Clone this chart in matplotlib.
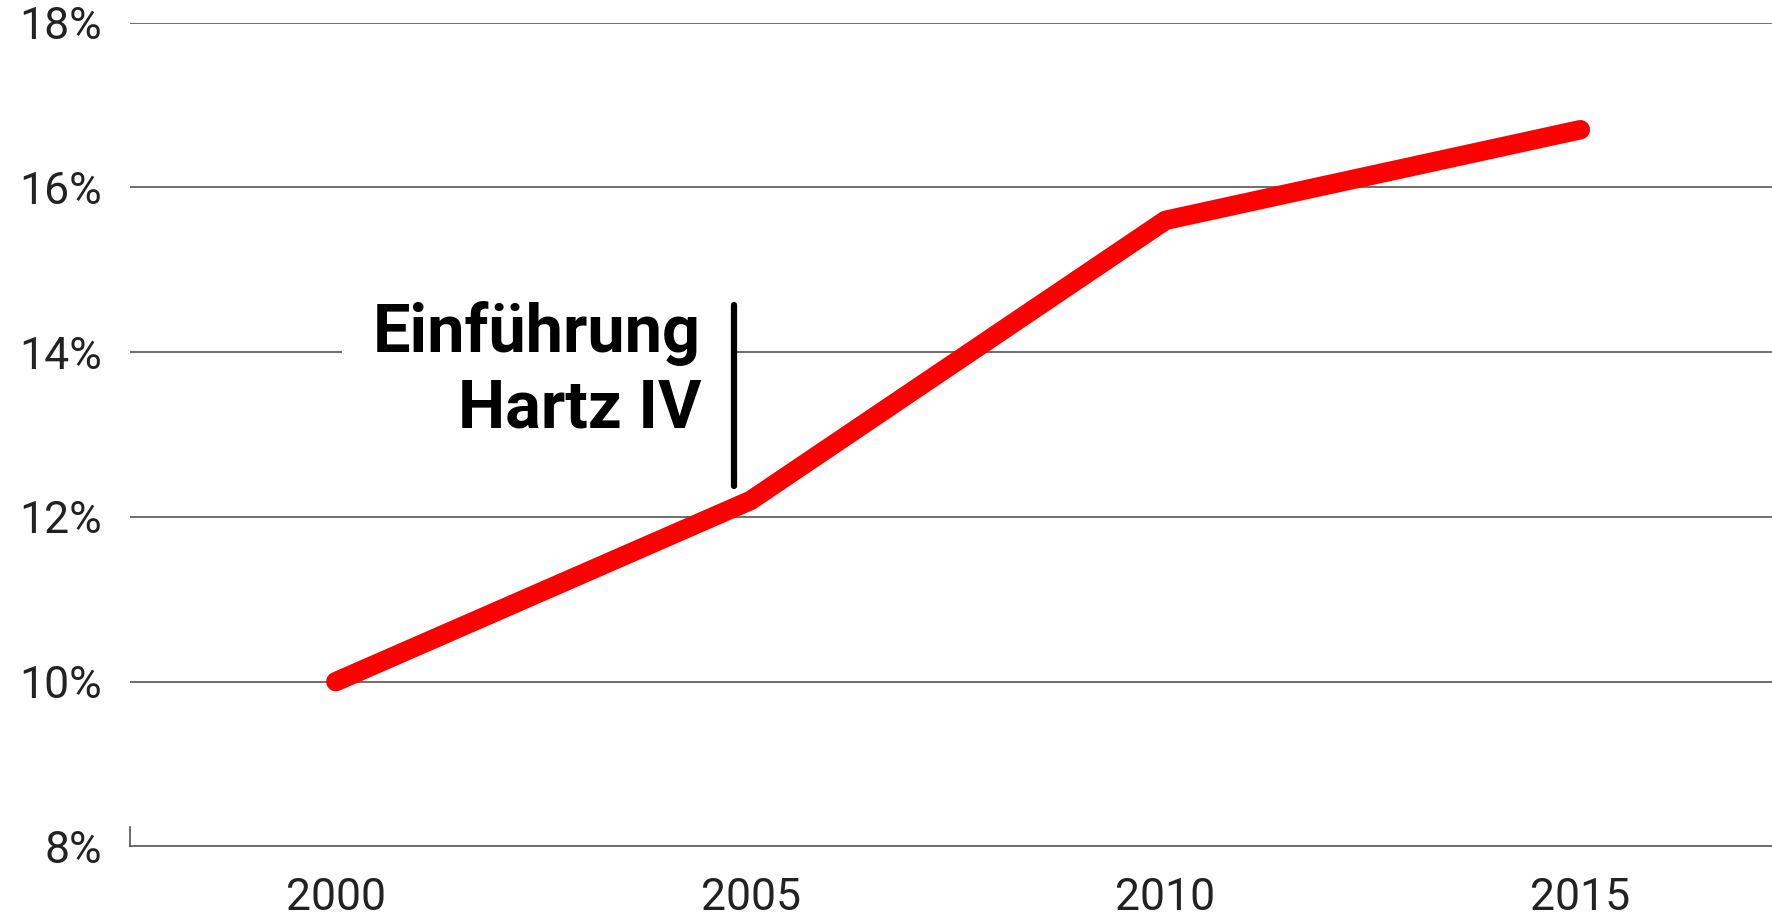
"""
Armutsquote 2000-2015 with the Hartz IV marker.
"""

import matplotlib.pyplot as plt


YEARS = [2000, 2005, 2010, 2015]
SHARE = [10.0, 12.2, 15.6, 16.7]          # percent

Y_TICKS = [8, 10, 12, 14, 16, 18]
Y_TICK_LABELS = ["8%", "10%", "12%", "14%", "16%", "18%"]
X_TICKS = [2000, 2005, 2010, 2015]

MARKER_YEAR = 2004.8
MARKER_RANGE = (12.38, 14.57)
MARKER_TEXT = "Einführung\nHartz IV"

RED = "#ff0000"
GRID = "#555555"


def main():
    plt.rcParams["font.family"] = ["Roboto", "DejaVu Sans"]

    fig = plt.figure(figsize=(17.72, 9.23), dpi=100)
    ax = fig.add_axes([0.0734, 0.083, 0.9266, 0.8925])

    ax.set_xlim(1997.52, 2017.31)
    ax.set_ylim(8, 18)

    # horizontal grid
    for y in Y_TICKS[1:]:
        ax.axhline(y, color=GRID, linewidth=1.2, zorder=1)

    for side in ["top", "right"]:
        ax.spines[side].set_visible(False)
    ax.spines["bottom"].set_color(GRID)
    ax.spines["bottom"].set_linewidth(1.2)
    ax.spines["left"].set_color(GRID)
    ax.spines["left"].set_linewidth(1.2)
    ax.spines["left"].set_bounds(8, 8.24)

    ax.plot(YEARS, SHARE, color=RED, linewidth=14, solid_capstyle="round",
            solid_joinstyle="round", zorder=4)

    # annotation
    ax.vlines(MARKER_YEAR, *MARKER_RANGE, color="black", linewidth=4.5,
              capstyle="round", zorder=5)
    ax.text(2004.4, 14.62, MARKER_TEXT, ha="right", va="top", fontsize=48,
            fontweight="bold", linespacing=1.22, color="black", zorder=3,
            bbox=dict(facecolor="white", edgecolor="none", pad=22))

    ax.set_yticks(Y_TICKS)
    ax.set_yticklabels(Y_TICK_LABELS, fontsize=32, color="#222222")
    ax.set_xticks(X_TICKS)
    ax.set_xticklabels([str(x) for x in X_TICKS], fontsize=32, color="#222222")
    ax.tick_params(axis="both", length=0)
    ax.tick_params(axis="y", pad=20)
    ax.tick_params(axis="x", pad=22)

    fig.savefig("out.png", dpi=100)
    plt.close(fig)


if __name__ == "__main__":
    main()
